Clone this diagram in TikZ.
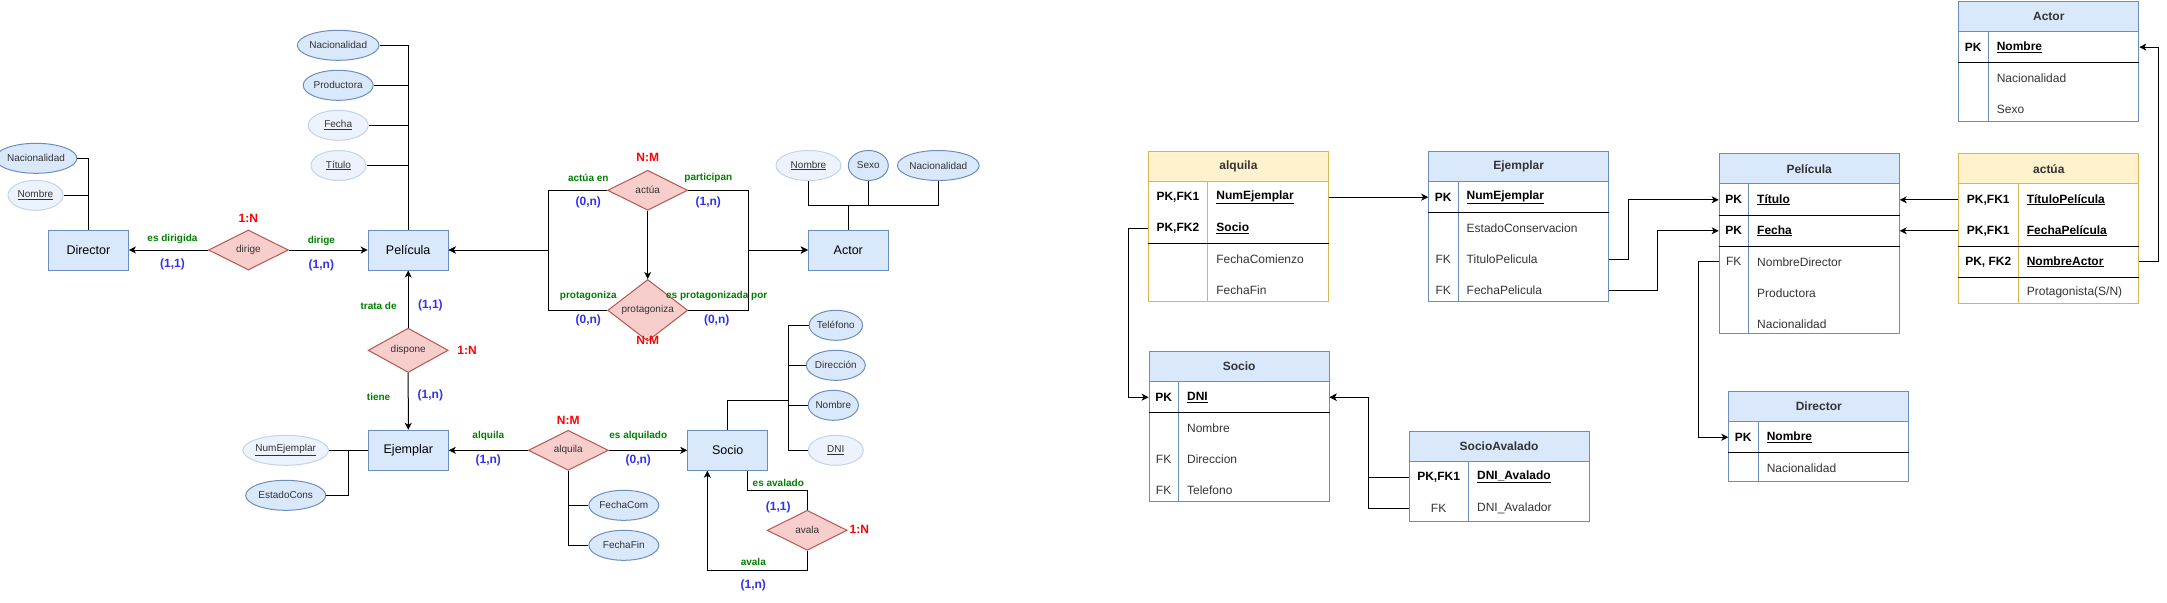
\documentclass[tikz,border=0pt]{standalone}
\usepackage{fontspec}
\setmainfont{Liberation Sans}
\usetikzlibrary{shapes.geometric,arrows.meta}
\definecolor{entfill}{HTML}{DAE8FC}
\definecolor{entdraw}{HTML}{6C8EBF}
\definecolor{lfill}{HTML}{EDF3FC}
\definecolor{ldraw}{HTML}{C3D3EC}
\definecolor{relfill}{HTML}{F8CECC}
\definecolor{reldraw}{HTML}{B85450}
\definecolor{yelfill}{HTML}{FFF2CC}
\definecolor{yeldraw}{HTML}{D6B656}
\definecolor{lgreen}{HTML}{007F00}
\definecolor{lblue}{HTML}{3030F0}
\definecolor{txtgrey}{HTML}{333333}
\newcommand\ertrow[6]{%
  \node[trow] (#1) at (#2.south west) {};
  \node[tkey,#6,xshift=#3/2] (#1k) at (#1.west) {#4};
  \node[tval,#6,xshift=#3+8] (#1v) at (#1.west) {#5};
}
\begin{document}
\begin{tikzpicture}[x=1pt,y=-1pt,line width=1pt,
  ent/.style={draw=entdraw,fill=entfill,minimum width=80pt,minimum height=40pt,inner sep=0pt,font=\fontsize{12.5}{15}\selectfont},
  attr/.style={ellipse,draw=entdraw,fill=entfill,minimum height=30pt,inner sep=0pt,text=txtgrey,font=\fontsize{10}{12}\selectfont},
  kattr/.style={attr,draw=ldraw,fill=lfill},
  rel/.style={diamond,draw=reldraw,fill=relfill,minimum width=80pt,minimum height=40pt,inner sep=0pt,text=txtgrey,font=\fontsize{10}{12}\selectfont},
  gl/.style={text=lgreen,font=\bfseries\fontsize{10}{12}\selectfont,inner sep=0pt},
  bl/.style={text=lblue,font=\bfseries\fontsize{12}{14}\selectfont,inner sep=0pt},
  rl/.style={text=red,font=\bfseries\fontsize{12}{14}\selectfont,inner sep=0pt},
  arr/.style={-{Stealth[length=7pt,width=7pt,inset=2pt]}},
  tframe/.style={draw,minimum width=180pt,anchor=north west,inner sep=0pt},
  thead/.style={draw,minimum width=180pt,minimum height=30pt,anchor=north west,inner sep=0pt,font=\bfseries\fontsize{12}{14}\selectfont,text=txtgrey},
  trow/.style={minimum width=180pt,minimum height=30pt,anchor=north west,inner sep=0pt},
  tkey/.style={anchor=center,inner sep=0pt,font=\fontsize{12}{14}\selectfont},
  tval/.style={anchor=west,inner sep=0pt,font=\fontsize{12}{14}\selectfont},
  pk/.style={font=\bfseries\fontsize{12}{14}\selectfont,text=black},
  nk/.style={text=txtgrey}]
\useasboundingbox (0,0) rectangle (2167,602);

% ================= ER diagram =================
\node[ent] (director) at (88.4,250) {Director};
\node[attr,minimum width=70pt] (dNac) at (36,158.3) {Nacionalidad};
\node[kattr,minimum width=55pt] (dNom) at (35.5,195.3) {\underline{Nombre}};
\node[rel] (dirige) at (248.4,250) {dirige};
\node[ent] (pelicula) at (408.2,250) {Película};
\node[attr,minimum width=80pt] (pNac) at (338.2,45.3) {Nacionalidad};
\node[attr,minimum width=70pt] (pProd) at (338.2,85.3) {Productora};
\node[kattr,minimum width=60pt] (pFec) at (338.2,125.3) {\underline{Fecha}};
\node[kattr,minimum width=55pt] (pTit) at (338.5,165.5) {\underline{Título}};
\node[rel] (actua) at (647.7,190.3) {actúa};
\node[rel] (prot) at (647.7,310.3) {protagoniza};
\node[ent] (actor) at (848.3,250) {Actor};
\node[kattr,minimum width=65pt] (aNom) at (808.5,165.5) {\underline{Nombre}};
\node[attr,minimum width=40pt] (aSex) at (868.3,165.5) {Sexo};
\node[attr,minimum width=80pt] (aNac) at (938.3,165.5) {Nacionalidad};
\node[rel] (dispone) at (408.2,350.3) {dispone};
\node[ent] (ejemplar) at (408.3,450.3) {Ejemplar};
\node[kattr,minimum width=75pt] (eNum) at (285.7,450.3) {\underline{NumEjemplar}};
\node[attr,minimum width=80pt] (eEst) at (285.7,495.3) {EstadoCons};
\node[rel] (alquila) at (568.3,450.3) {alquila};
\node[attr,minimum width=70pt] (fCom) at (623.8,505.3) {FechaCom};
\node[attr,minimum width=70pt] (fFin) at (623.8,545.3) {FechaFin};
\node[ent] (socio) at (727.7,450.3) {Socio};
\node[attr,minimum width=50pt] (sTel) at (835.8,325.3) {Teléfono};
\node[attr,minimum width=50pt] (sDir) at (835.8,365.3) {Dirección};
\node[attr,minimum width=50pt] (sNom) at (833.3,405.3) {Nombre};
\node[kattr,minimum width=55pt] (sDNI) at (835.8,450.3) {\underline{DNI}};
\node[rel] (avala) at (807.2,530.3) {avala};

\coordinate (bL) at (548.3,250);
\coordinate (bR) at (748.3,250);
\coordinate (aj) at (848.3,205.3);
\coordinate (ej) at (348.2,450.3);
\coordinate (sj) at (788.3,400);
\coordinate (av1) at (747.7,490.3);
\coordinate (av2) at (707.3,570.3);

\draw (dNac.east) -| (director.north);
\draw (dNom.east) -- (dNom.east -| director.north);
\draw[arr] (dirige.west) -- (director.east);
\draw[arr] (dirige.east) -- (pelicula.west);
\draw (pNac.east) -| (pelicula.north);
\draw (pProd.east) -- (pProd.east -| pelicula.north);
\draw (pFec.east) -- (pFec.east -| pelicula.north);
\draw (pTit.east) -- (pTit.east -| pelicula.north);
\draw[arr] (actua.west) -| (bL) -- (pelicula.east);
\draw[arr] (prot.west) -| (bL) -- (pelicula.east);
\draw[arr] (actua.east) -| (bR) -- (actor.west);
\draw[arr] (prot.east) -| (bR) -- (actor.west);
\draw[arr] (actua.south) -- (prot.north);
\draw (actor.north) -- (aj);
\draw (aNom.south) |- (aj);
\draw (aNac.south) |- (aj);
\draw (aSex.south) -- (aSex.south |- aj);
\draw[arr] (dispone.north) -- (pelicula.south);
\draw[arr] (dispone.south) -- (ejemplar.north);
\draw (eNum.east) -- (ejemplar.west);
\draw (eEst.east) -| (ej);
\draw[arr] (alquila.west) -- (ejemplar.east);
\draw[arr] (alquila.east) -- (socio.west);
\draw (alquila.south) |- (fCom.west);
\draw (alquila.south) |- (fFin.west);
\draw (socio.north) |- (sj);
\draw (sTel.west) -- (sTel.west -| sj) -- (sDNI.west -| sj) -- (sDNI.west);
\draw (sDir.west) -- (sDir.west -| sj);
\draw (sNom.west) -- (sNom.west -| sj);
\draw (av1 |- socio.south) -- (av1) -| (avala.north);
\draw[arr] (avala.south) |- (av2) -- (av2 |- socio.south);

% labels
\node[rl] (l01) at (248.4,218.3) {1:N};
\node[gl] (l02) at (172.5,239.3) {es dirigida};
\node[bl] (l03) at (172.5,264) {(1,1)};
\node[gl] (l04) at (321.4,240.7) {dirige};
\node[bl] (l05) at (321.4,265) {(1,n)};
\node[rl] (l06) at (647.7,157.7) {N:M};
\node[gl] (l07) at (588.3,177.7) {actúa en};
\node[bl] (l08) at (588.3,202) {(0,n)};
\node[gl] (l09) at (708.3,177.7) {participan};
\node[bl] (l10) at (708.3,202) {(1,n)};
\node[gl] (l11) at (588.3,295.7) {protagoniza};
\node[bl] (l12) at (588.3,320) {(0,n)};
\node[gl] (l13) at (716.7,295.7) {es protagonizada por};
\node[bl] (l14) at (716.7,320) {(0,n)};
\node[rl] (l15) at (647.7,340.7) {N:M};
\node[gl] (l16) at (378.6,305.7) {trata de};
\node[bl] (l17) at (430.4,305) {(1,1)};
\node[rl] (l18) at (467.1,350) {1:N};
\node[gl] (l19) at (378.6,396.7) {tiene};
\node[bl] (l20) at (430.4,395) {(1,n)};
\node[rl] (l21) at (568.3,420) {N:M};
\node[gl] (l22) at (488.3,435.7) {alquila};
\node[bl] (l23) at (488.3,460) {(1,n)};
\node[gl] (l24) at (638.3,435.7) {es alquilado};
\node[bl] (l25) at (638.3,460) {(0,n)};
\node[gl] (l26) at (778.3,482.7) {es avalado};
\node[bl] (l27) at (778.3,507) {(1,1)};
\node[rl] (l28) at (859.3,529.3) {1:N};
\node[gl] (l29) at (753.3,561.7) {avala};
\node[bl] (l30) at (753.3,585.7) {(1,n)};

% ================= Relational tables =================
% alquila
\node[tframe,draw=yeldraw,minimum height=150pt] (tAlq) at (1147.9,150.7) {};
\node[thead,fill=yelfill,draw=yeldraw] (tAlqH) at (tAlq.north west) {alquila};
\ertrow{tAlq1}{tAlqH}{60}{PK,FK1}{\underline{NumEjemplar}}{pk}
\ertrow{tAlq2}{tAlq1}{60}{PK,FK2}{\underline{Socio}}{pk}
\ertrow{tAlq3}{tAlq2}{60}{}{FechaComienzo}{nk}
\ertrow{tAlq4}{tAlq3}{60}{}{FechaFin}{nk}
\draw[yeldraw] ([xshift=60pt]tAlqH.south west) -- ([xshift=60pt]tAlq.south west);
\draw (tAlq2.south west) -- (tAlq2.south east);

% Ejemplar
\node[tframe,draw=entdraw,minimum height=150pt] (tEje) at (1428.2,150.7) {};
\node[thead,fill=entfill,draw=entdraw] (tEjeH) at (tEje.north west) {Ejemplar};
\ertrow{tEje1}{tEjeH}{30}{PK}{\underline{NumEjemplar}}{pk}
\ertrow{tEje2}{tEje1}{30}{}{EstadoConservacion}{nk}
\ertrow{tEje3}{tEje2}{30}{FK}{TituloPelicula}{nk}
\ertrow{tEje4}{tEje3}{30}{FK}{FechaPelicula}{nk}
\draw[entdraw] ([xshift=30pt]tEjeH.south west) -- ([xshift=30pt]tEje.south west);
\draw (tEje1.south west) -- (tEje1.south east);

% Pelicula
\node[tframe,draw=entdraw,minimum height=180pt] (tPel) at (1718.7,153.3) {};
\node[thead,fill=entfill,draw=entdraw] (tPelH) at (tPel.north west) {Película};
\ertrow{tPel1}{tPelH}{30}{PK}{\underline{Título}}{pk}
\ertrow{tPel2}{tPel1}{30}{PK}{\underline{Fecha}}{pk}
\ertrow{tPel3}{tPel2}{30}{FK}{NombreDirector}{nk}
\ertrow{tPel4}{tPel3}{30}{}{Productora}{nk}
\ertrow{tPel5}{tPel4}{30}{}{Nacionalidad}{nk}
\draw[entdraw] ([xshift=30pt]tPelH.south west) -- ([xshift=30pt]tPel.south west);
\draw (tPel1.south west) -- (tPel1.south east);
\draw (tPel2.south west) -- (tPel2.south east);

% actua
\node[tframe,draw=yeldraw,minimum height=150pt] (tAct) at (1958.3,153.3) {};
\node[thead,fill=yelfill,draw=yeldraw] (tActH) at (tAct.north west) {actúa};
\ertrow{tAct1}{tActH}{60}{PK,FK1}{\underline{TítuloPelícula}}{pk}
\ertrow{tAct2}{tAct1}{60}{PK,FK1}{\underline{FechaPelícula}}{pk}
\ertrow{tAct3}{tAct2}{60}{PK, FK2}{\underline{NombreActor}}{pk}
\ertrow{tAct4}{tAct3}{60}{}{Protagonista(S/N)}{nk}
\draw[yeldraw] ([xshift=60pt]tActH.south west) -- ([xshift=60pt]tAct.south west);
\draw (tAct2.south west) -- (tAct2.south east);
\draw (tAct3.south west) -- (tAct3.south east);

% Actor
\node[tframe,draw=entdraw,minimum height=120pt] (tActor) at (1958.3,0.6) {};
\node[thead,fill=entfill,draw=entdraw] (tActorH) at (tActor.north west) {Actor};
\ertrow{tActor1}{tActorH}{30}{PK}{\underline{Nombre}}{pk}
\ertrow{tActor2}{tActor1}{30}{}{Nacionalidad}{nk}
\ertrow{tActor3}{tActor2}{30}{}{Sexo}{nk}
\draw[entdraw] ([xshift=30pt]tActorH.south west) -- ([xshift=30pt]tActor.south west);
\draw (tActor1.south west) -- (tActor1.south east);

% Director
\node[tframe,draw=entdraw,minimum height=90pt] (tDir) at (1728.3,390.7) {};
\node[thead,fill=entfill,draw=entdraw] (tDirH) at (tDir.north west) {Director};
\ertrow{tDir1}{tDirH}{30}{PK}{\underline{Nombre}}{pk}
\ertrow{tDir2}{tDir1}{30}{}{Nacionalidad}{nk}
\draw[entdraw] ([xshift=30pt]tDirH.south west) -- ([xshift=30pt]tDir.south west);
\draw (tDir1.south west) -- (tDir1.south east);

% Socio
\node[tframe,draw=entdraw,minimum height=150pt] (tSoc) at (1148.6,350.7) {};
\node[thead,fill=entfill,draw=entdraw] (tSocH) at (tSoc.north west) {Socio};
\ertrow{tSoc1}{tSocH}{30}{PK}{\underline{DNI}}{pk}
\ertrow{tSoc2}{tSoc1}{30}{}{Nombre}{nk}
\ertrow{tSoc3}{tSoc2}{30}{FK}{Direccion}{nk}
\ertrow{tSoc4}{tSoc3}{30}{FK}{Telefono}{nk}
\draw[entdraw] ([xshift=30pt]tSocH.south west) -- ([xshift=30pt]tSoc.south west);
\draw (tSoc1.south west) -- (tSoc1.south east);

% SocioAvalado
\node[tframe,draw=entdraw,minimum height=90pt] (tSA) at (1408.6,430.7) {};
\node[thead,fill=entfill,draw=entdraw] (tSAH) at (tSA.north west) {SocioAvalado};
\ertrow{tSA1}{tSAH}{60}{PK,FK1}{\underline{DNI\_Avalado}}{pk}
\ertrow{tSA2}{tSA1}{60}{FK}{DNI\_Avalador}{nk}
\draw[entdraw] ([xshift=60pt]tSAH.south west) -- ([xshift=60pt]tSA.south west);

% table connectors
\coordinate (c1) at (1128.3,0);
\coordinate (c2) at (1628.2,0);
\coordinate (c3) at (1657.9,0);
\coordinate (c4) at (1698.3,0);
\coordinate (c5) at (2158.3,0);
\coordinate (c6) at (1368.6,0);
\draw[arr] (tAlq1.east) -- (tEje1.west);
\draw[arr] (tAlq2.west) -- (tAlq2.west -| c1) |- (tSoc1.west);
\draw[arr] (tEje3.east) -- (tEje3.east -| c2) |- (tPel1.west);
\draw[arr] (tEje4.east) -- (tEje4.east -| c3) |- (tPel2.west);
\draw[arr] (tPel3.west) -- (tPel3.west -| c4) |- (tDir1.west);
\draw[arr] (tAct1.west) -- (tPel1.east);
\draw[arr] (tAct2.west) -- (tPel2.east);
\draw[arr] (tAct3.east) -- (tAct3.east -| c5) |- (tActor1.east);
\draw[arr] (tSA1.west) -- (tSA1.west -| c6) |- (tSoc1.east);
\draw[arr] (tSA2.west) -- (tSA2.west -| c6) |- (tSoc1.east);
\end{tikzpicture}
\end{document}
